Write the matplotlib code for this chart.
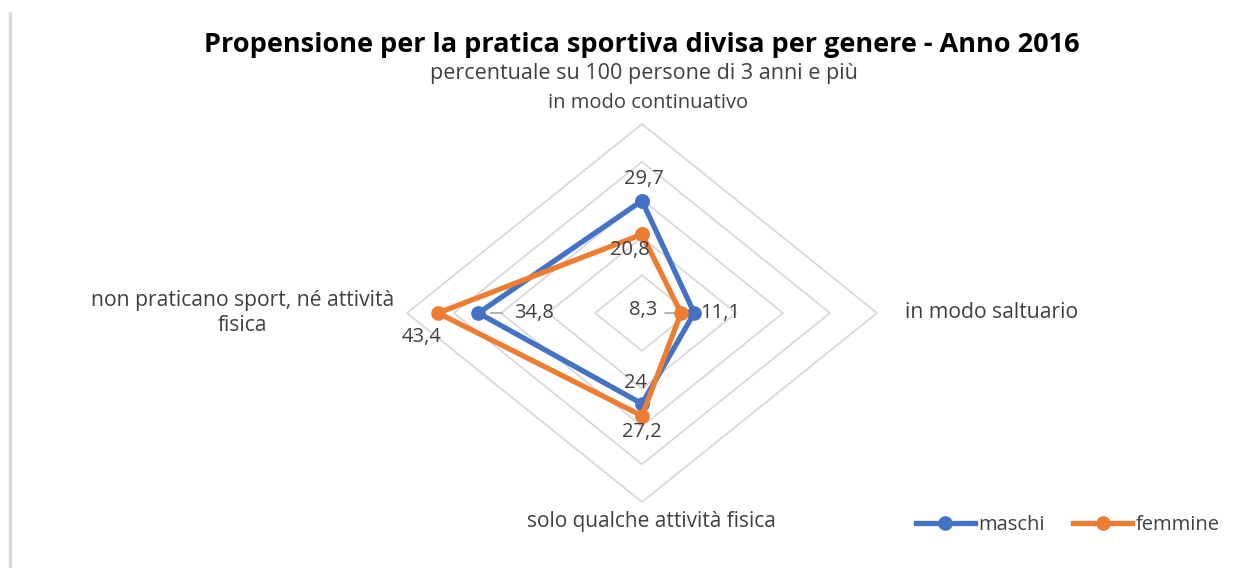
import numpy as np
import matplotlib.pyplot as plt
from matplotlib.lines import Line2D

categories = ["in modo continuativo", "in modo saltuario",
              "solo qualche attività fisica",
              "non praticano sport, né attività\nfisica"]
maschi = [29.7, 11.1, 24, 34.8]
femmine = [20.8, 8.3, 27.2, 43.4]
labels_m = ["29,7", "11,1", "24", "34,8"]
labels_f = ["20,8", "8,3", "27,2", "43,4"]
rings = [10, 20, 30, 40, 50]

blue = "#4472C4"
orange = "#ED7D31"
grid = "#D9D9D9"
txt = "#404040"

W, H = 1258, 568
fig = plt.figure(figsize=(W / 100, H / 100), dpi=100)
plt.rcParams['font.family'] = ['Open Sans', 'DejaVu Sans']

# centre of the radar in pixels and pixel per unit (picture is stretched horizontally)
cx, cy = 642, 313
sx, sy = 4.7, 3.78
xl, yl = 60, 60
ax = fig.add_axes([(cx - xl * sx) / W, (H - cy - yl * sy) / H,
                   2 * xl * sx / W, 2 * yl * sy / H])
ax.set_xlim(-xl, xl)
ax.set_ylim(-yl, yl)
ax.axis("off")

theta = np.arange(4) * np.pi / 2


def xy(vals):
    v = np.asarray(vals, dtype=float)
    x = v * np.sin(theta)
    y = v * np.cos(theta)
    return np.append(x, x[0]), np.append(y, y[0])


for r in rings:
    gx, gy = xy([r] * 4)
    ax.plot(gx, gy, color=grid, lw=1.3, zorder=1)

mx, my = xy(maschi)
fx, fy = xy(femmine)
ax.plot(mx, my, color=blue, lw=3.8, marker="o", ms=9.5, zorder=3,
        solid_joinstyle="round")
ax.plot(fx, fy, color=orange, lw=3.8, marker="o", ms=9.5, zorder=4,
        solid_joinstyle="round")

# data labels (offsets in points, centred)
off_m = [(1, 16), (19, 0), (-5, 15), (40, 0)]
off_f = [(-9, -11), (-27, 2), (0, -12), (-12, -17)]
for i in range(4):
    ax.annotate(labels_m[i], (mx[i], my[i]), xytext=off_m[i],
                textcoords="offset points", ha="center", va="center",
                fontsize=14.5, color=txt, zorder=5)
    ax.annotate(labels_f[i], (fx[i], fy[i]), xytext=off_f[i],
                textcoords="offset points", ha="center", va="center",
                fontsize=14.5, color=txt, zorder=5)
# leader lines
ax.annotate("", (mx[3] + 2, my[3]), xytext=(mx[3] + 5.7, my[3]),
            arrowprops=dict(arrowstyle="-", color="#A6A6A6", lw=1.2))
ax.annotate("", (fx[1] - 0.8, fy[1]), xytext=(fx[1] - 4, fy[1]),
            arrowprops=dict(arrowstyle="-", color="#A6A6A6", lw=1.2))


def fxp(px):
    return px / W


def fyp(py):
    return 1 - py / H


# category labels
fig.text(fxp(648), fyp(103), categories[0], ha="center", va="center", fontsize=14.5, color=txt)
fig.text(fxp(905), fyp(313), categories[1], ha="left", va="center", fontsize=15.2, color=txt)
fig.text(fxp(651), fyp(521), categories[2], ha="center", va="center", fontsize=15, color=txt)
fig.text(fxp(243), fyp(313), categories[3], ha="center", va="center", fontsize=15.2,
         color=txt, linespacing=1.2)

fig.text(fxp(642), fyp(45), "Propensione per la pratica sportiva divisa per genere - Anno 2016",
         ha="center", va="center", fontsize=19.5, fontweight="bold", color="black")
fig.text(fxp(644), fyp(73), "percentuale su 100 persone di 3 anni e più",
         ha="center", va="center", fontsize=15.5, color=txt)

# legend
h = [Line2D([], [], color=blue, lw=3.8, marker="o", ms=9.5),
     Line2D([], [], color=orange, lw=3.8, marker="o", ms=9.5)]
fig.legend(h, ["maschi", "femmine"], loc="center", bbox_to_anchor=(fxp(1068), fyp(525)),
           ncol=2, frameon=False, fontsize=14.5, handlelength=2.9, handletextpad=0.2,
           columnspacing=1.4, labelcolor=txt)

# thin border on the left
fig.add_artist(Line2D([fxp(10), fxp(10)], [fyp(13), 0], color="#DDDDDD", lw=2.5))

fig.savefig("out.png", dpi=100, facecolor="white")
